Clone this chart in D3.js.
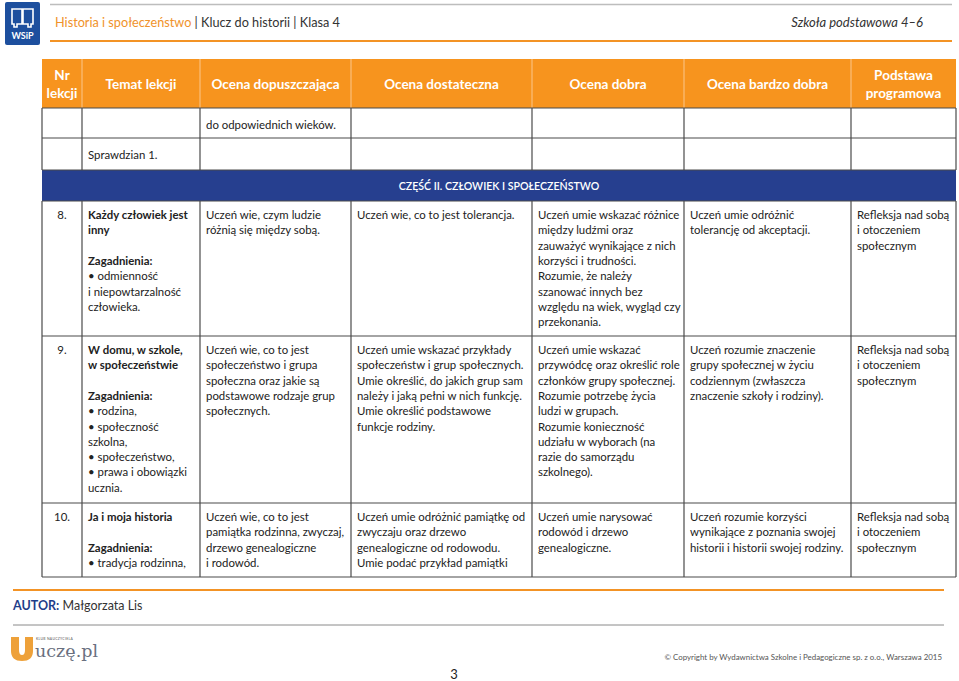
<!DOCTYPE html>
<html><head><meta charset="utf-8">
<script src="https://cdn.jsdelivr.net/npm/d3@7/dist/d3.min.js"></script>
<style>
body{margin:0;background:#fff;}
svg{display:block;font-family:Lato,"Open Sans",sans-serif;}
</style></head>
<body>
<script>
// ---- data ----
const headerTitle = ["Historia i społeczeństwo", " | Klucz do historii | Klasa 4"];
const headerRight = "Szkoła podstawowa 4–6";
const columns = [["Nr","lekcji"],["Temat lekcji"],["Ocena dopuszczająca"],["Ocena dostateczna"],["Ocena dobra"],["Ocena bardzo dobra"],["Podstawa","programowa"]];
const sectionTitle = "CZĘŚĆ II. CZŁOWIEK I SPOŁECZEŃSTWO";
const refl = ["Refleksja nad sobą","i otoczeniem","społecznym"];
const carryRows = [
  [[],[],["do odpowiednich wieków."],[],[],[],[]],
  [[],["Sprawdzian 1."],[],[],[],[],[]]
];
const lessonNumbers = ["8.","9.","10."];
const lessonTopics = [
  ["*Każdy człowiek jest","*inny","","*Zagadnienia:","• odmienność","i niepowtarzalność","człowieka."],
  ["*W domu, w szkole,","*w społeczeństwie","","*Zagadnienia:","• rodzina,","• społeczność","szkolna,","• społeczeństwo,","• prawa i obowiązki","ucznia."],
  ["*Ja i moja historia","","*Zagadnienia:","• tradycja rodzinna,"]
];
const gradeDop = [
  ["Uczeń wie, czym ludzie","różnią się między sobą."],
  ["Uczeń wie, co to jest","społeczeństwo i grupa","społeczna oraz jakie są","podstawowe rodzaje grup","społecznych."],
  ["Uczeń wie, co to jest","pamiątka rodzinna, zwyczaj,","drzewo genealogiczne","i rodowód."]
];
const gradeDost = [
  ["Uczeń wie, co to jest tolerancja."],
  ["Uczeń umie wskazać przykłady","społeczeństw i grup społecznych.","Umie określić, do jakich grup sam","należy i jaką pełni w nich funkcję.","Umie określić podstawowe","funkcje rodziny."],
  ["Uczeń umie odróżnić pamiątkę od","zwyczaju oraz drzewo","genealogiczne od rodowodu.","Umie podać przykład pamiątki"]
];
const gradeDobra = [
  ["Uczeń umie wskazać różnice","między ludźmi oraz","zauważyć wynikające z nich","korzyści i trudności.","Rozumie, że należy","szanować innych bez","względu na wiek, wygląd czy","przekonania."],
  ["Uczeń umie wskazać","przywódcę oraz określić role","członków grupy społecznej.","Rozumie potrzebę życia","ludzi w grupach.","Rozumie konieczność","udziału w wyborach (na","razie do samorządu","szkolnego)."],
  ["Uczeń umie narysować","rodowód i drzewo","genealogiczne."]
];
const gradeBdb = [
  ["Uczeń umie odróżnić","tolerancję od akceptacji."],
  ["Uczeń rozumie znaczenie","grupy społecznej w życiu","codziennym (zwłaszcza","znaczenie szkoły i rodziny)."],
  ["Uczeń rozumie korzyści","wynikające z poznania swojej","historii i historii swojej rodziny."]
];
const podstawa = [refl, refl, refl];
const author = ["AUTOR:", " Małgorzata Lis"];
const copyright = "© Copyright by Wydawnictwa Szkolne i Pedagogiczne sp. z o.o., Warszawa 2015";
const pageNumber = "3";

// ---- layout ----
const W = 959, H = 681;
const colWidths = [40,118,151,181,152,167,105];
const tableLeft = 42, tableTop = 59;
const rowHeights = [49,30,32,31,135,167,74]; // header, carry1, carry2, band, r8, r9, r10
const ORANGE = "#f7941e", BLUE = "#263f8f", LINE = "#4a4a4a", TXT = "#222";

const colEdges = [tableLeft, ...d3.cumsum(colWidths).map(v=>v+tableLeft)];
const rowEdges = [tableTop, ...d3.cumsum(rowHeights).map(v=>v+tableTop)];
const tableRight = colEdges[colEdges.length-1];

const svg = d3.select("body").append("svg").attr("width",W).attr("height",H);

// page header
svg.append("line").attr("x1",50).attr("x2",952).attr("y1",4.5).attr("y2",4.5).attr("stroke","#bdbdbd").attr("stroke-width",1.5);
svg.append("line").attr("x1",50).attr("x2",952).attr("y1",41).attr("y2",41).attr("stroke","#f39325").attr("stroke-width",2);
const logo = svg.append("g");
logo.append("rect").attr("x",5).attr("y",2).attr("width",35).attr("height",43).attr("rx",2).attr("fill","#1d4f9e");
logo.append("path").attr("d","M12 9 L22 9 L22 24 L17 24 L17 27 L14 27 L14 24 L12 24 Z M23 9 L33 9 L33 24 L31 24 L31 27 L28 27 L28 24 L23 24 Z")
  .attr("fill","none").attr("stroke","#fff").attr("stroke-width",1.6);
logo.append("text").attr("x",22.5).attr("y",39).attr("text-anchor","middle").attr("fill","#fff").attr("font-size",9).attr("font-weight",700).text("WSiP");
const ht = svg.append("text").attr("x",55).attr("y",27).attr("font-size",12.7);
ht.append("tspan").attr("fill","#f0922a").text(headerTitle[0]);
ht.append("tspan").attr("fill","#333").text(headerTitle[1]);
svg.append("text").attr("x",923).attr("y",27).attr("text-anchor","end").attr("font-size",13).attr("font-style","italic").attr("fill","#333").text(headerRight);

// table header
const g = svg.append("g");
g.append("rect").attr("x",tableLeft).attr("y",rowEdges[0]).attr("width",tableRight-tableLeft).attr("height",rowHeights[0]).attr("fill",ORANGE);
columns.forEach((c,i)=>{
  const cx=(colEdges[i]+colEdges[i+1])/2, cy=(rowEdges[0]+rowEdges[1])/2;
  const t=g.append("text").attr("text-anchor","middle").attr("fill","#fff").attr("font-weight",700).attr("font-size",13.5);
  c.forEach((l,j)=>t.append("tspan").attr("x",cx).attr("y",cy+5+(j-(c.length-1)/2)*18).text(l));
});
colEdges.slice(1,-1).forEach(x=>g.append("line").attr("x1",x).attr("x2",x).attr("y1",rowEdges[0]).attr("y2",rowEdges[1]).attr("stroke","#fbc68a").attr("stroke-width",1));

// section band
g.append("rect").attr("x",tableLeft).attr("y",rowEdges[3]).attr("width",tableRight-tableLeft).attr("height",rowHeights[3]).attr("fill",BLUE);
g.append("text").attr("x",(tableLeft+tableRight)/2).attr("y",rowEdges[3]+19.5).attr("text-anchor","middle").attr("fill","#fff").attr("font-size",10.6).attr("font-weight",600).text(sectionTitle);

// body rows
function cellText(lines, col, rowTop, baseOff, center){
  if(!lines.length) return;
  const t=g.append("text").attr("font-size",11.4).attr("fill",TXT);
  lines.forEach((l,j)=>{
    const bold=l.startsWith("*"); const s=bold?l.slice(1):l;
    const ts=t.append("tspan").attr("x",center?(colEdges[col]+colEdges[col+1])/2:colEdges[col]+6).attr("y",rowTop+baseOff+j*15.3).text(s);
    if(bold) ts.attr("font-weight",700);
    if(center) ts.attr("text-anchor","middle");
  });
}
carryRows.forEach((r,ri)=>{
  r.forEach((lines,ci)=>cellText(lines,ci,rowEdges[1+ri],20.5,false));
});
lessonNumbers.forEach((n,i)=>{
  const top=rowEdges[4+i];
  cellText([n],0,top,18,true);
  cellText(lessonTopics[i],1,top,18);
  cellText(gradeDop[i],2,top,18);
  cellText(gradeDost[i],3,top,18);
  cellText(gradeDobra[i],4,top,18);
  cellText(gradeBdb[i],5,top,18);
  cellText(podstawa[i],6,top,18);
});

// grid lines
[1,2,3,4,5,6,7].forEach(ri=>{
  g.append("line").attr("x1",tableLeft).attr("x2",tableRight).attr("y1",rowEdges[ri]).attr("y2",rowEdges[ri]).attr("stroke",LINE).attr("stroke-width",1.2);
});
[[1,3],[4,7]].forEach(([a,b])=>{
  colEdges.forEach(x=>g.append("line").attr("x1",x).attr("x2",x).attr("y1",rowEdges[a]).attr("y2",rowEdges[b]).attr("stroke",LINE).attr("stroke-width",1.2));
});

// footer
svg.append("line").attr("x1",13).attr("x2",944).attr("y1",590).attr("y2",590).attr("stroke","#f39325").attr("stroke-width",2);
const at=svg.append("text").attr("x",13).attr("y",610).attr("font-size",12.5);
at.append("tspan").attr("fill","#1f3e8a").attr("font-weight",700).text(author[0]);
at.append("tspan").attr("fill","#333").text(author[1]);
svg.append("line").attr("x1",13).attr("x2",944).attr("y1",625).attr("y2",625).attr("stroke","#8a8a8a").attr("stroke-width",1);
const ul=svg.append("g");
ul.append("path").attr("d","M11 637 L19 637 L19 650 Q19 655 22 655 Q25 655 25 650 L25 637 L33 637 L33 651 Q33 661 22 661 Q11 661 11 651 Z").attr("fill","#eea13a");
ul.append("text").attr("x",36).attr("y",639.5).attr("font-size",3.4).attr("fill","#555").attr("letter-spacing",0.3).text("KLUB NAUCZYCIELA");
ul.append("text").attr("x",35).attr("y",657).attr("font-size",17.5).attr("fill","#6a7080").attr("font-family","DejaVu Serif, serif").text("uczę.pl");
svg.append("text").attr("x",942).attr("y",660).attr("text-anchor","end").attr("font-size",7.9).attr("fill","#555").text(copyright);
svg.append("text").attr("x",454).attr("y",679).attr("text-anchor","middle").attr("font-size",13).attr("fill","#222").text(pageNumber);
</script>
</body></html>
